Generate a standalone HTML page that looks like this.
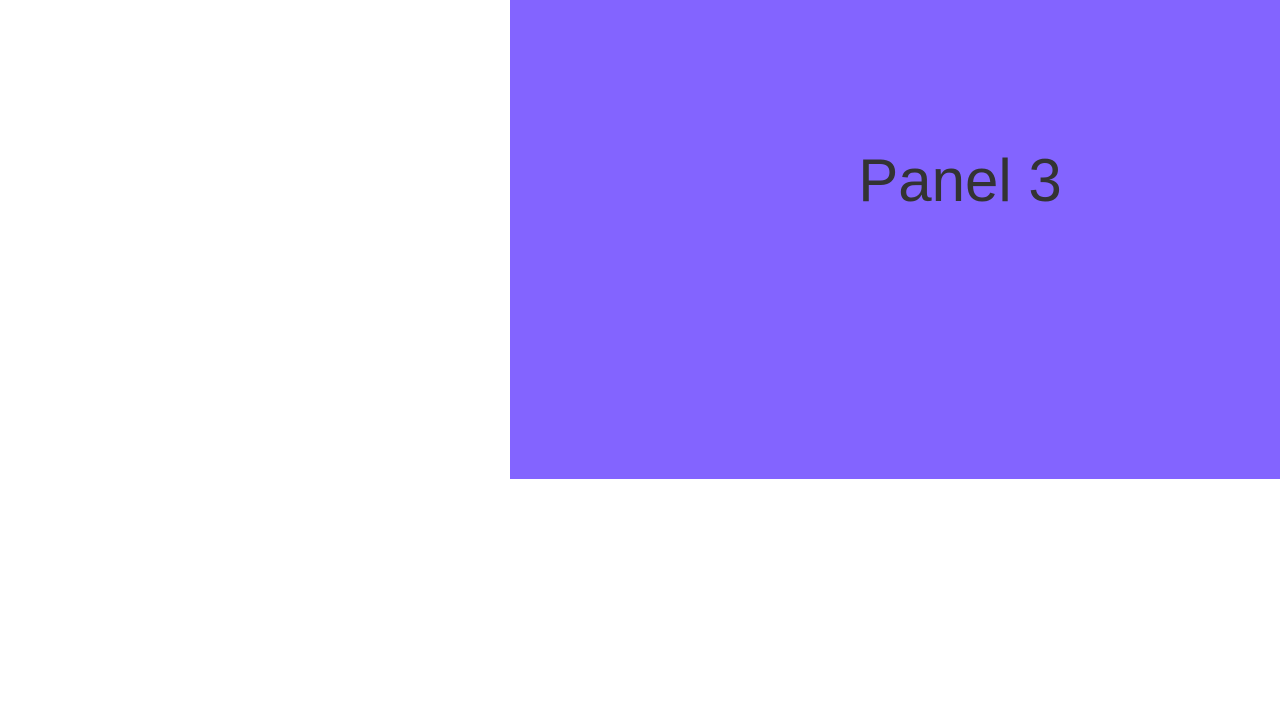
<!DOCTYPE html>
<html><head><meta charset="utf-8"><style>
html,body{margin:0;padding:0;width:1280px;height:719px;background:#fff;overflow:hidden}
#panel{position:absolute;left:510px;top:0;width:770px;height:479px;background:#8364ff}
#label{font-family:"Liberation Sans",sans-serif;font-size:60px;color:#333333;line-height:1;white-space:nowrap;text-align:center}
</style></head><body>
<div id="panel"></div>
<div id="label" style="position:absolute;left:710px;width:500px;margin:0;top:151px">Panel 3</div>
</body></html>
